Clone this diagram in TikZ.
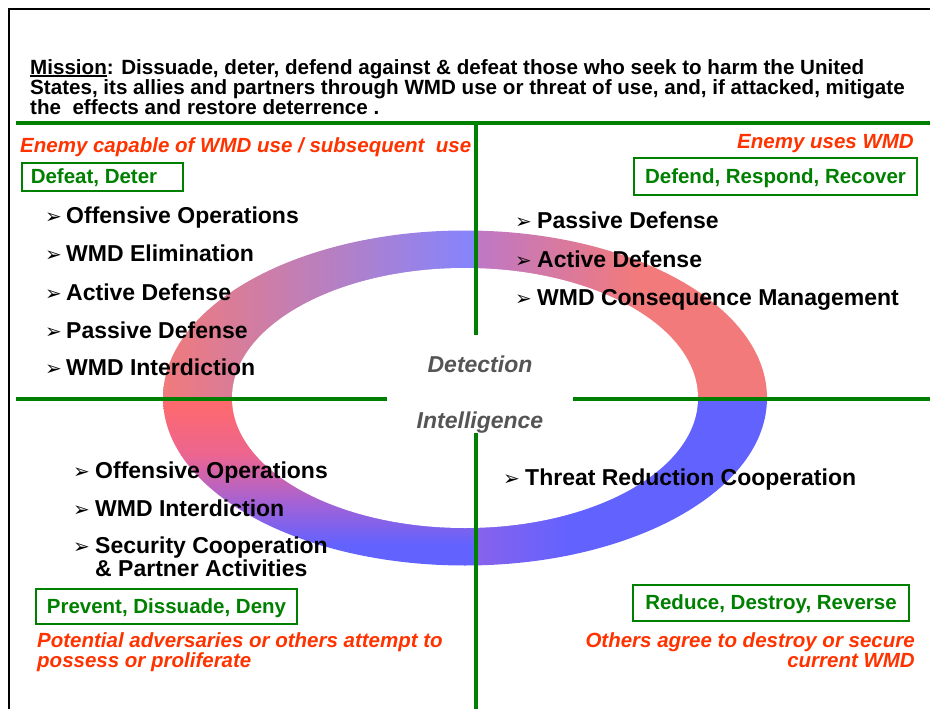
\documentclass[tikz,border=0pt]{standalone}
\usepackage{fontspec}
\setmainfont{Liberation Sans}
\newfontfamily\dejavu{DejaVu Sans}
\definecolor{ggreen}{RGB}{0,128,0}
\definecolor{tred}{RGB}{255,51,0}
\definecolor{tgray}{RGB}{85,85,85}
\definecolor{cSalmon}{RGB}{242,122,122}
\definecolor{cLav}{RGB}{132,132,255}
\definecolor{cPurp}{RGB}{190,120,198}
\definecolor{cRed}{RGB}{255,106,106}
\definecolor{cPink}{RGB}{236,101,144}
\definecolor{cViol}{RGB}{160,98,216}
\definecolor{cBlue}{RGB}{98,98,255}
\definecolor{cPurpB}{RGB}{136,98,236}
\begin{document}
\begin{tikzpicture}[x=1pt,y=-1pt,
  itm/.style={font=\fontsize{23}{23}\selectfont\bfseries, anchor=base west, inner sep=0pt},
  bul/.style={font=\dejavu\fontsize{20}{20}\selectfont, anchor=base west, inner sep=0pt},
  redtxt/.style={text=tred, font=\fontsize{20.5}{20}\selectfont\bfseries\itshape, inner sep=0pt},
  gbox/.style={draw=ggreen, line width=1.2pt, text=ggreen, font=\fontsize{20.5}{20}\selectfont\bfseries, inner xsep=0pt, inner ysep=0pt, text height=15.5pt, text depth=2pt},
  graytxt/.style={text=tgray, font=\fontsize{23}{23}\selectfont\bfseries\itshape, anchor=base, inner sep=0pt},
  gline/.style={draw=ggreen, line width=4.5pt},
  mis/.style={font=\fontsize{20.6}{20}\selectfont\bfseries, anchor=base west, inner sep=0pt}]
\useasboundingbox (0,0) rectangle (930,709);
\fill[white] (0,0) rectangle (930,709);

% ring
\begin{scope}
\clip (465,398) ellipse [x radius=302pt, y radius=167.5pt];
\shade[left color=cSalmon, right color=cLav] (160,225) rectangle (476,398);
\shade[left color=cPurp, right color=cSalmon] (476,225) rectangle (640,398);
\fill[cSalmon] (640,225) rectangle (770,398);
\shade[top color=cRed, bottom color=cPink] (160,398) rectangle (476,455);
\shade[top color=cPink, bottom color=cViol] (160,455) rectangle (476,505);
\shade[top color=cViol, bottom color=cBlue] (160,505) rectangle (476,545);
\fill[cBlue] (160,545) rectangle (476,570);
\shade[left color=cPurpB, right color=cBlue] (476,398) rectangle (570,570);
\fill[cBlue] (570,398) rectangle (770,570);
\end{scope}
\fill[white] (465,398) ellipse [x radius=233pt, y radius=130pt];

% frame
\draw[line width=2.5pt] (9,709) -- (9,9) -- (930,9);

% green division lines
\draw[gline] (16,123) -- (930,123);
\draw[gline] (476,123) -- (476,335);
\draw[gline] (16,399) -- (387,399);
\draw[gline] (573,399) -- (930,399);
\draw[gline] (476,433) -- (476,709);

% mission
\node[mis] (m1) at (30,74.5) {{\setbox0\hbox{Mission}\rlap{\rule[-2.6pt]{\wd0}{1.8pt}}\box0}: Dissuade, deter, defend against \& defeat those who seek to harm the United};
\node[mis] (m2) at (30,94.5) {States, its allies and partners through WMD use or threat of use, and, if attacked, mitigate};
\node[mis] (m3) at (30,114.5) {the~ effects and restore deterrence .};

% quadrant headers
\node[redtxt, anchor=base west] (h1) at (20,152) {Enemy capable of WMD use / subsequent~ use};
\node[redtxt, anchor=base east] (h2) at (914,148) {Enemy uses WMD};
\node[redtxt, anchor=base west] (h3a) at (37,647) {Potential adversaries or others attempt to};
\node[redtxt, anchor=base west] (h3b) at (37,667) {possess or proliferate};
\node[redtxt, anchor=base east] (h4a) at (915,647) {Others agree to destroy or secure};
\node[redtxt, anchor=base east] (h4b) at (915,667) {current WMD};

% green boxes
\node[gbox, minimum width=161pt, minimum height=28pt] (g1) at (102.5,177) {Defeat, Deter\hspace*{17pt}};
\node[gbox, minimum width=283pt, minimum height=37pt] (g2) at (775.5,176.5) {Defend, Respond, Recover};
\node[gbox, minimum width=261pt, minimum height=35pt] (g3) at (166.5,606.5) {Prevent, Dissuade, Deny};
\node[gbox, minimum width=276pt, minimum height=36pt] (g4) at (771,603) {Reduce, Destroy, Reverse};

% upper-left items
\node[bul] (b11) at (45,223) {➢}; \node[itm] (t11) at (66,223) {Offensive Operations};
\node[bul] (b12) at (45,261.5) {➢}; \node[itm] (t12) at (66,261.5) {WMD Elimination};
\node[bul] (b13) at (45,300) {➢}; \node[itm] (t13) at (66,300) {Active Defense};
\node[bul] (b14) at (45,338) {➢}; \node[itm] (t14) at (66,338) {Passive Defense};
\node[bul] (b15) at (45,375) {➢}; \node[itm] (t15) at (66,375) {WMD Interdiction};

% upper-right items
\node[bul] (b21) at (515,228) {➢}; \node[itm] (t21) at (537,228) {Passive Defense};
\node[bul] (b22) at (515,267) {➢}; \node[itm] (t22) at (537,267) {Active Defense};
\node[bul] (b23) at (515,305) {➢}; \node[itm] (t23) at (537,305) {WMD Consequence Management};

% lower-left items
\node[bul] (b31) at (73,478) {➢}; \node[itm] (t31) at (95,478) {Offensive Operations};
\node[bul] (b32) at (73,516) {➢}; \node[itm] (t32) at (95,516) {WMD Interdiction};
\node[bul] (b33) at (73,553) {➢}; \node[itm] (t33) at (95,553) {Security Cooperation};
\node[itm] (t34) at (95,576) {\& Partner Activities};

% lower-right items
\node[bul] (b41) at (503,485) {➢}; \node[itm] (t41) at (525,485) {Threat Reduction Cooperation};

% centre labels
\node[graytxt] (det) at (480,372) {Detection};
\node[graytxt] (int) at (480,428) {Intelligence};
\end{tikzpicture}
\end{document}
